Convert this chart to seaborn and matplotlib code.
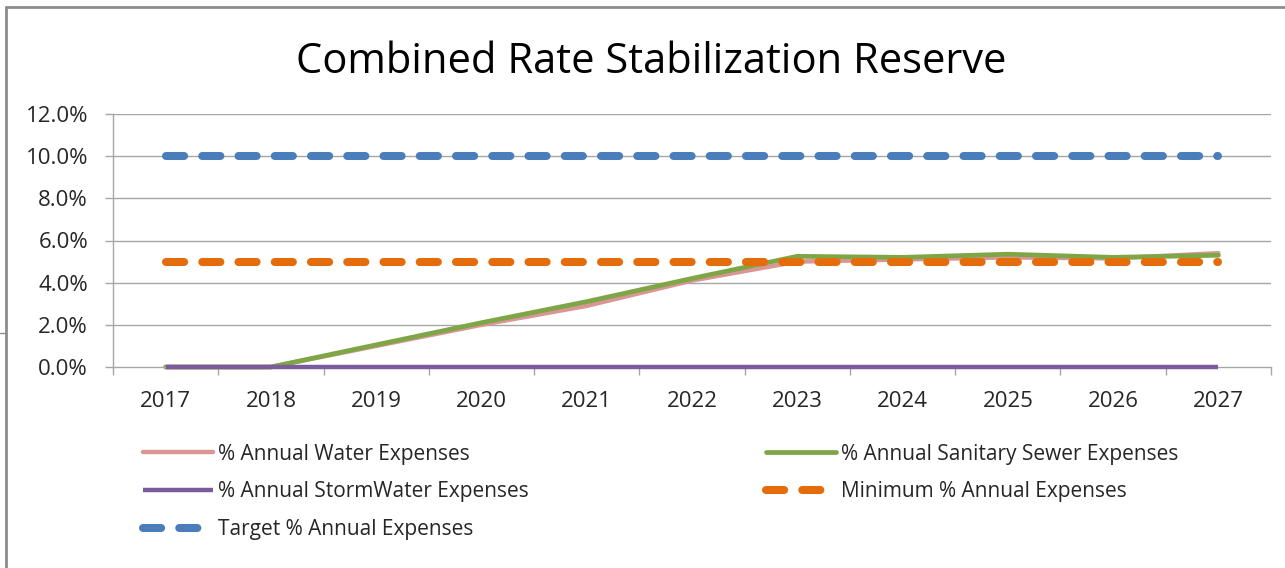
import pandas as pd
import matplotlib.pyplot as plt
import matplotlib.ticker as mticker
from matplotlib.lines import Line2D
import seaborn as sns

# Data (percent of annual expenses)
years = [2017, 2018, 2019, 2020, 2021, 2022, 2023, 2024, 2025, 2026, 2027]
water = [0.0, 0.0, 1.0, 2.0, 2.9, 4.1, 5.0, 5.1, 5.2, 5.15, 5.4]
sewer = [0.0, 0.0, 1.05, 2.1, 3.1, 4.2, 5.25, 5.2, 5.35, 5.2, 5.3]
storm = [0.0] * 11
minimum = [5.0] * 11
target = [10.0] * 11

labels = ['% Annual Water Expenses', '% Annual Sanitary Sewer Expenses',
          '% Annual StormWater Expenses', 'Minimum % Annual Expenses',
          'Target % Annual Expenses']

df = pd.DataFrame({'year': years, 'water': water, 'sewer': sewer,
                   'storm': storm, 'minimum': minimum, 'target': target})

sns.set_style('white')
plt.rcParams['font.family'] = ['Open Sans', 'DejaVu Sans']

fig = plt.figure(figsize=(12.85, 5.68), dpi=100)
ax = fig.add_axes([113 / 1285, 1 - 367 / 568, (1271 - 113) / 1285, (367 - 114) / 568])

grid_c = '#a6a6a6'
for y in [2, 4, 6, 8, 10, 12]:
    ax.axhline(y, color=grid_c, lw=1.0, zorder=0)

sns.lineplot(data=df, x='year', y='water', ax=ax, color='#d99694', lw=3.2,
             label=labels[0], solid_capstyle='round', clip_on=False)
sns.lineplot(data=df, x='year', y='sewer', ax=ax, color='#7fa646', lw=3.4,
             label=labels[1], solid_capstyle='round', clip_on=False)
sns.lineplot(data=df, x='year', y='storm', ax=ax, color='#7a5c9e', lw=3.2,
             label=labels[2], solid_capstyle='butt', clip_on=False, zorder=3)
sns.lineplot(data=df, x='year', y='minimum', ax=ax, color='#e46c0a', lw=5.8,
             label=labels[3], dashes=(2.25, 2.25), dash_capstyle='round', zorder=4)
sns.lineplot(data=df, x='year', y='target', ax=ax, color='#4a7ebb', lw=5.8,
             label=labels[4], dashes=(2.25, 2.25), dash_capstyle='round', zorder=4)

ax.set_xlim(2016.5, 2027.5)
ax.set_ylim(0, 12)
ax.set_xlabel('')
ax.set_ylabel('')
ax.set_xticks(years)
ax.set_xticklabels([str(y) for y in years])
ax.xaxis.set_minor_locator(mticker.FixedLocator([y - 0.5 for y in years] + [2027.5]))
ax.set_yticks([0, 2, 4, 6, 8, 10, 12])
ax.yaxis.set_major_formatter(mticker.FuncFormatter(lambda v, p: f'{v:.1f}%'))

ax.tick_params(axis='x', which='major', length=0, pad=17, labelsize=16, labelcolor='#262626')
ax.tick_params(axis='x', which='minor', length=6, width=1, color=grid_c, direction='out', bottom=True)
ax.tick_params(axis='y', length=6, width=1, color=grid_c, direction='out', left=True,
               pad=12, labelsize=16, labelcolor='#262626')

for s in ['top', 'right']:
    ax.spines[s].set_visible(False)
for s in ['left', 'bottom']:
    ax.spines[s].set_color(grid_c)
    ax.spines[s].set_linewidth(1.0)

# legend: Excel-style two columns
h, l = ax.get_legend_handles_labels()
order = [0, 2, 4, 1, 3]
ax.legend([h[i] for i in order], [l[i] for i in order], ncol=2, frameon=False,
          loc='upper left', bbox_to_anchor=(124 / 1285, 1 - 425 / 568),
          bbox_transform=fig.transFigure, fontsize=15, handlelength=3.36,
          handletextpad=0.24, labelspacing=0.8, columnspacing=11.4,
          labelcolor='#262626')

fig.text(651 / 1285, 1 - 73 / 568, 'Combined Rate Stabilization Reserve',
         ha='center', va='baseline', fontsize=30, color='black')

# outer chart border
border = '#8c8c8c'
fig.add_artist(Line2D([6 / 1285, 1], [1 - 7 / 568, 1 - 7 / 568], color=border, lw=2,
                      transform=fig.transFigure))
fig.add_artist(Line2D([6 / 1285, 6 / 1285], [0, 1 - 7 / 568], color=border, lw=2,
                      transform=fig.transFigure))
fig.add_artist(Line2D([0, 6 / 1285], [1 - 333 / 568, 1 - 333 / 568], color=border, lw=1,
                      transform=fig.transFigure))

fig.savefig('out.png', dpi=100)
